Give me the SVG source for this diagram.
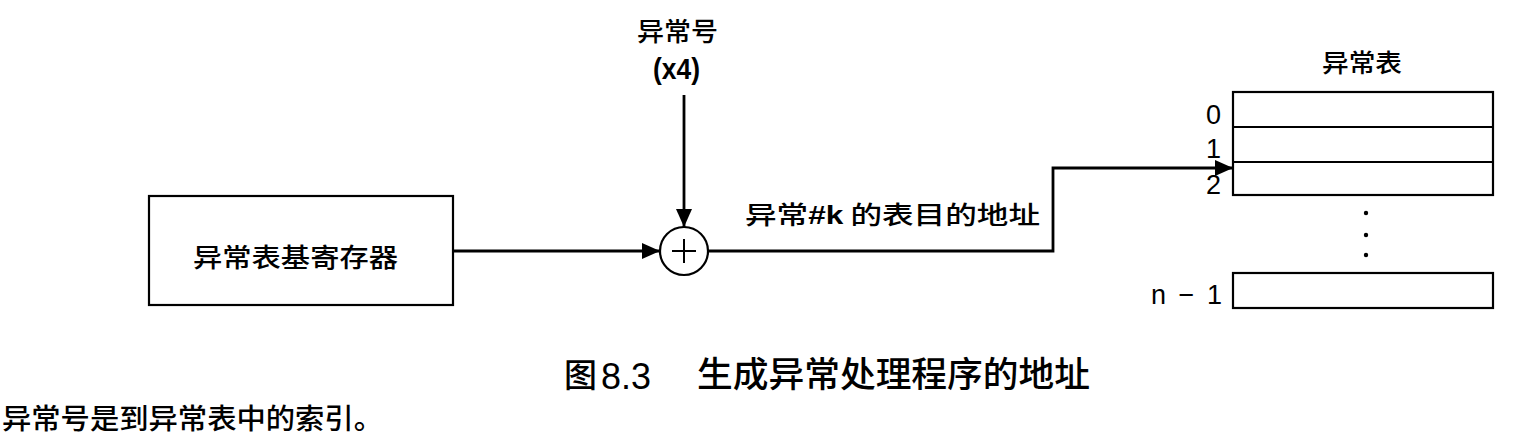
<svg xmlns="http://www.w3.org/2000/svg" width="1518" height="448" viewBox="0 0 1518 448">
<style>
.cjk{font-family:"Noto Sans CJK SC","Liberation Sans",sans-serif;fill:#000;font-weight:500}
.lat{font-family:"Liberation Sans",Arial,sans-serif;fill:#000}
.ln{fill:none;stroke:#000;stroke-width:2.8}
.bx{fill:#fff;stroke:#000;stroke-width:2.2}
</style>
<defs>
<marker id="ah" markerUnits="userSpaceOnUse" markerWidth="20" markerHeight="18" refX="18" refY="8" orient="auto">
<path d="M0,0 L18,8 L0,16 z" fill="#000"/>
</marker>
</defs>
<rect width="1518" height="448" fill="#fff"/>
<g id="register">
<rect class="bx" x="149" y="196" width="304" height="109"/>
<text class="cjk" x="193" y="267" font-size="26" textLength="205" lengthAdjust="spacingAndGlyphs">异常表基寄存器</text>
</g>
<g id="exception-number">
<text class="cjk" x="637" y="41" font-size="26" textLength="81" lengthAdjust="spacingAndGlyphs">异常号</text>
<text class="lat" x="653" y="79" font-size="29" font-weight="bold" textLength="47" lengthAdjust="spacingAndGlyphs">(x4)</text>
</g>
<g id="adder">
<circle cx="684" cy="251" r="24" fill="#fff" stroke="#000" stroke-width="2.2"/>
<path d="M684,239 V263 M672,251 H696" stroke="#000" stroke-width="2"/>
</g>
<g id="exception-table">
<text class="cjk" x="1322" y="72" font-size="25" textLength="80" lengthAdjust="spacingAndGlyphs">异常表</text>
<rect class="bx" x="1233" y="92" width="260" height="103"/>
<path d="M1233,127 H1493 M1233,162 H1493" stroke="#000" stroke-width="2.2"/>
<rect class="bx" x="1233" y="273" width="260" height="35"/>
<text class="lat" x="1221" y="124" font-size="27" text-anchor="end">0</text>
<text class="lat" x="1221" y="158" font-size="27" text-anchor="end">1</text>
<text class="lat" x="1221" y="194" font-size="27" text-anchor="end">2</text>
<text class="lat" x="1151" y="304" font-size="27" textLength="71">n − 1</text>
<circle cx="1366" cy="213" r="2.2"/>
<circle cx="1366" cy="235" r="2.2"/>
<circle cx="1366" cy="255" r="2.2"/>
</g>
<g id="connectors">
<path class="ln" d="M453,251 H660" marker-end="url(#ah)"/>
<path class="ln" d="M684,95 V227" marker-end="url(#ah)"/>
<path class="ln" d="M708,251 H1053 V168 H1233" marker-end="url(#ah)"/>
<text class="cjk" x="745" y="224" font-size="25" textLength="295" lengthAdjust="spacingAndGlyphs">异常<tspan font-family="Liberation Sans,sans-serif" font-weight="bold">#k</tspan> 的表目的地址</text>
</g>
<g id="caption">
<text class="cjk" x="564" y="387" font-size="33">图</text>
<text class="lat" x="601" y="389" font-size="36" textLength="50" lengthAdjust="spacingAndGlyphs">8.3</text>
<text class="cjk" x="697" y="387" font-size="35" textLength="393" lengthAdjust="spacingAndGlyphs">生成异常处理程序的地址</text>
<text class="cjk" x="2" y="429" font-size="28" textLength="381" lengthAdjust="spacingAndGlyphs">异常号是到异常表中的索引。</text>
</g>
</svg>
